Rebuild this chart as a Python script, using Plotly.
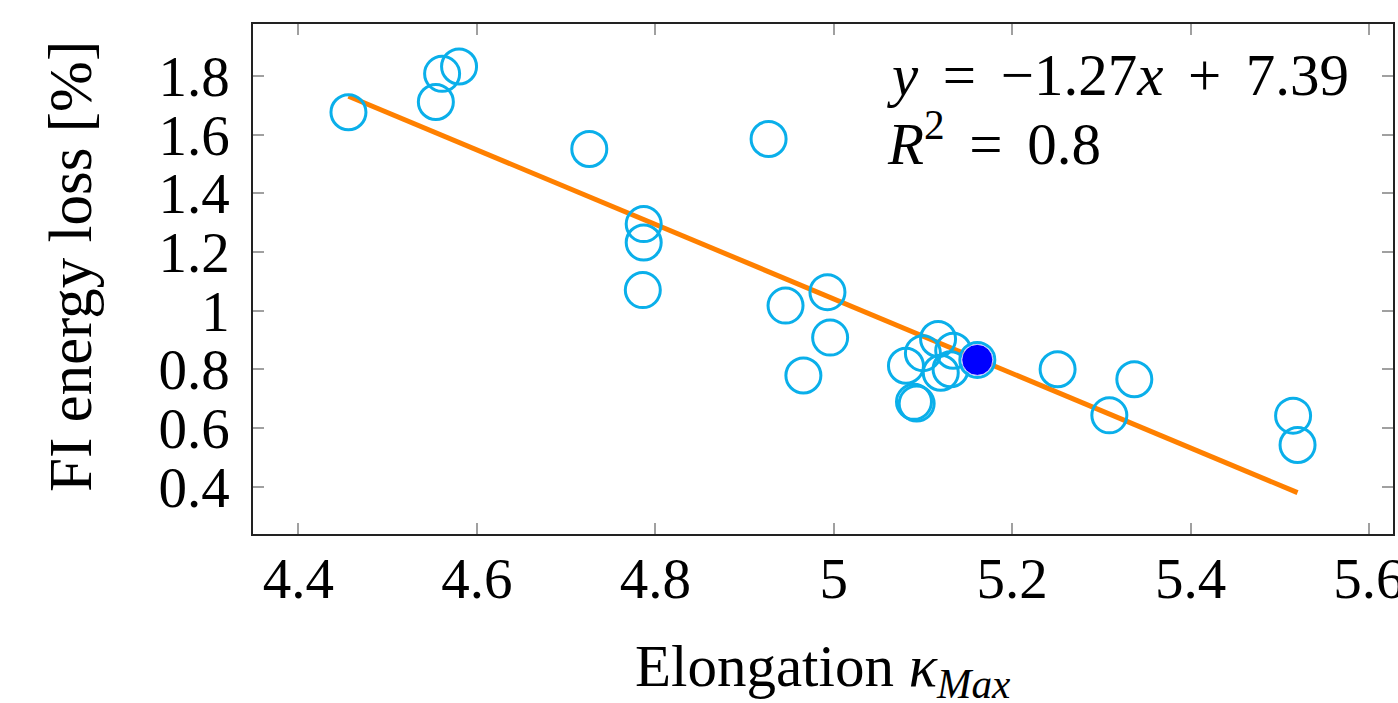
import plotly.graph_objects as go

# Data
elongation = [4.456, 4.561, 4.580, 4.554, 4.726, 4.927, 4.787, 4.787, 4.786,
              4.946, 4.993, 4.996, 4.966, 5.117, 5.100, 5.081, 5.134, 5.120,
              5.131, 5.090, 5.093, 5.161, 5.251, 5.337, 5.309, 5.515, 5.520]
energy_loss = [1.676, 1.807, 1.832, 1.711, 1.551, 1.585, 1.295, 1.232, 1.070,
               1.017, 1.063, 0.908, 0.779, 0.903, 0.855, 0.812, 0.863, 0.788,
               0.800, 0.689, 0.683, 0.832, 0.800, 0.766, 0.643, 0.642, 0.542]
highlight_x = [5.161]
highlight_y = [0.832]
slope = -1.27
intercept = 7.39
r_squared = 0.8

x_tickvals = [4.4, 4.6, 4.8, 5.0, 5.2, 5.4, 5.6]
x_ticktext = ["4.4", "4.6", "4.8", "5", "5.2", "5.4", "5.6"]
y_tickvals = [0.4, 0.6, 0.8, 1.0, 1.2, 1.4, 1.6, 1.8]
y_ticktext = ["0.4", "0.6", "0.8", "1", "1.2", "1.4", "1.6", "1.8"]
x_title = "Elongation <i>\u03ba</i><sub><i>Max</i></sub>"
y_title = "FI energy loss [%]"

FONT = "Liberation Serif"
CYAN = "#0AAFEA"
ORANGE = "#FF8000"
GAP = "\u2004\u200a"

fit_x = [min(elongation), max(elongation)]
fit_y = [slope * v + intercept for v in fit_x]

fig = go.Figure()
fig.add_trace(go.Scatter(
    x=fit_x, y=fit_y, mode="lines",
    line=dict(color=ORANGE, width=5), hoverinfo="skip", showlegend=False))
fig.add_trace(go.Scatter(
    x=elongation, y=energy_loss, mode="markers",
    marker=dict(symbol="circle-open", size=35, color=CYAN, line=dict(width=3, color=CYAN)),
    showlegend=False))
fig.add_trace(go.Scatter(
    x=highlight_x, y=highlight_y, mode="markers",
    marker=dict(symbol="circle", size=31, color="#0000FF", line=dict(width=1, color="#C8C8FF")),
    showlegend=False))

fig.add_annotation(
    x=5.058, y=1.803, xref="x", yref="y", xanchor="left", yanchor="middle",
    text="<i>y</i>" + GAP + "=" + GAP + "\u22121.27<i>x</i>" + GAP + "+" + GAP + "7.39",
    showarrow=False, font=dict(family=FONT, size=59, color="black"))
fig.add_annotation(
    x=5.058, y=1.584, xref="x", yref="y", xanchor="left", yanchor="middle",
    text="<i>R</i><sup>2</sup>" + GAP + "=" + GAP + "%g" % r_squared,
    showarrow=False, font=dict(family=FONT, size=59, color="black"))

# axis titles
fig.add_annotation(
    x=0.5, y=-0.2667, xref="paper", yref="paper", xanchor="center", yanchor="middle",
    text=x_title, showarrow=False, font=dict(family=FONT, size=59, color="black"))
fig.add_annotation(
    x=0, y=0.5235, xref="paper", yref="paper", xanchor="center", yanchor="middle",
    xshift=-183, textangle=-90,
    text=y_title, showarrow=False, font=dict(family=FONT, size=61, color="black"))

axis_common = dict(
    showgrid=False, zeroline=False, showline=True, linecolor="#222222", linewidth=1.5,
    mirror="allticks", ticks="inside", ticklen=11, tickwidth=1.5, tickcolor="#A0A0A0",
    tickfont=dict(family=FONT, size=57, color="black"), automargin=False,
    ticklabeloverflow="allow",
)

fig.update_layout(
    width=1398, height=703,
    margin=dict(l=253, r=5, t=24, b=169),
    paper_bgcolor="white", plot_bgcolor="white",
    xaxis=dict(range=[4.349, 5.627], tickvals=x_tickvals, ticktext=x_ticktext,
               ticklabelstandoff=-6, **axis_common),
    yaxis=dict(range=[0.2385, 1.977], tickvals=y_tickvals, ticktext=y_ticktext,
               ticklabelstandoff=10, **axis_common),
)

fig.write_html("out.html", config={"displayModeBar": False},
               post_script="document.body.style.margin='0px';")
